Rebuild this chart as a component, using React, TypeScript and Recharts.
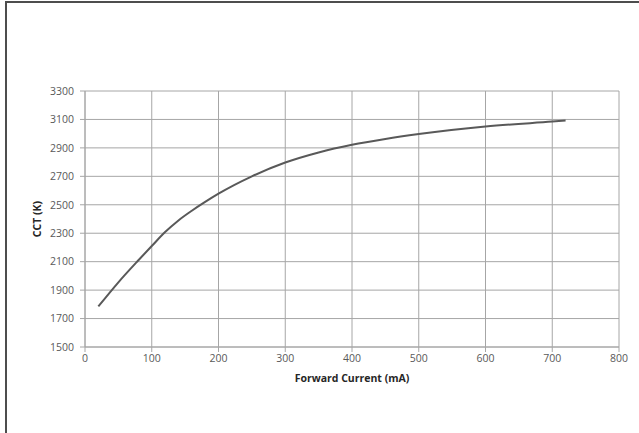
import React from 'react';
import { LineChart, Line, XAxis, YAxis, CartesianGrid } from 'recharts';

// Forward current (mA) vs CCT (K)
const currents = [20, 50, 80, 100, 120, 140, 160, 180, 200, 250, 300, 350, 400, 450, 500, 600, 700, 720];
const cct = [1785, 1955, 2110, 2210, 2308, 2390, 2458, 2520, 2578, 2700, 2797, 2868, 2922, 2963, 2997, 3050, 3085, 3092];

const xTicks = [0, 100, 200, 300, 400, 500, 600, 700, 800];
const yTicks = [1500, 1700, 1900, 2100, 2300, 2500, 2700, 2900, 3100, 3300];

const data = currents.map((c, i) => ({ current: c, cct: cct[i] }));

const tickStyle = { fontSize: 10.5, fill: '#595959', fontFamily: '"Open Sans", sans-serif' };
const labelStyle = { fontSize: 10.5, fontWeight: 700, fill: '#262626', fontFamily: '"Open Sans", sans-serif' };

export default function App() {
  return (
    <div style={{ position: 'absolute', left: 0, top: 0, width: 639, height: 433, background: '#fff', overflow: 'hidden' }}>
      <div style={{ position: 'absolute', left: 5, top: 1, width: 700, height: 500, border: '2px solid #4d4d4d' }} />
      <div style={{ position: 'absolute', left: 0, top: 0 }}>
        <LineChart width={639} height={433} data={data} margin={{ top: 91, right: 20, bottom: 51, left: 0 }}>
          <CartesianGrid stroke="#a6a6a6" strokeWidth={1} />
          <XAxis
            dataKey="current"
            type="number"
            domain={[0, 800]}
            ticks={xTicks}
            height={35}
            tickSize={5}
            tickMargin={3}
            stroke="#a6a6a6"
            tick={tickStyle}
            label={{ value: 'Forward Current (mA)', position: 'insideBottom', offset: 0, style: labelStyle }}
          />
          <YAxis
            type="number"
            domain={[1500, 3300]}
            ticks={yTicks}
            width={85}
            tickSize={5}
            tickMargin={6}
            stroke="#a6a6a6"
            tick={tickStyle}
            label={{ value: 'CCT (K)', angle: -90, position: 'center', dx: -5, style: labelStyle }}
          />
          <Line
            dataKey="cct"
            type="monotone"
            stroke="#595959"
            strokeWidth={2}
            dot={false}
            isAnimationActive={false}
          />
        </LineChart>
      </div>
    </div>
  );
}
